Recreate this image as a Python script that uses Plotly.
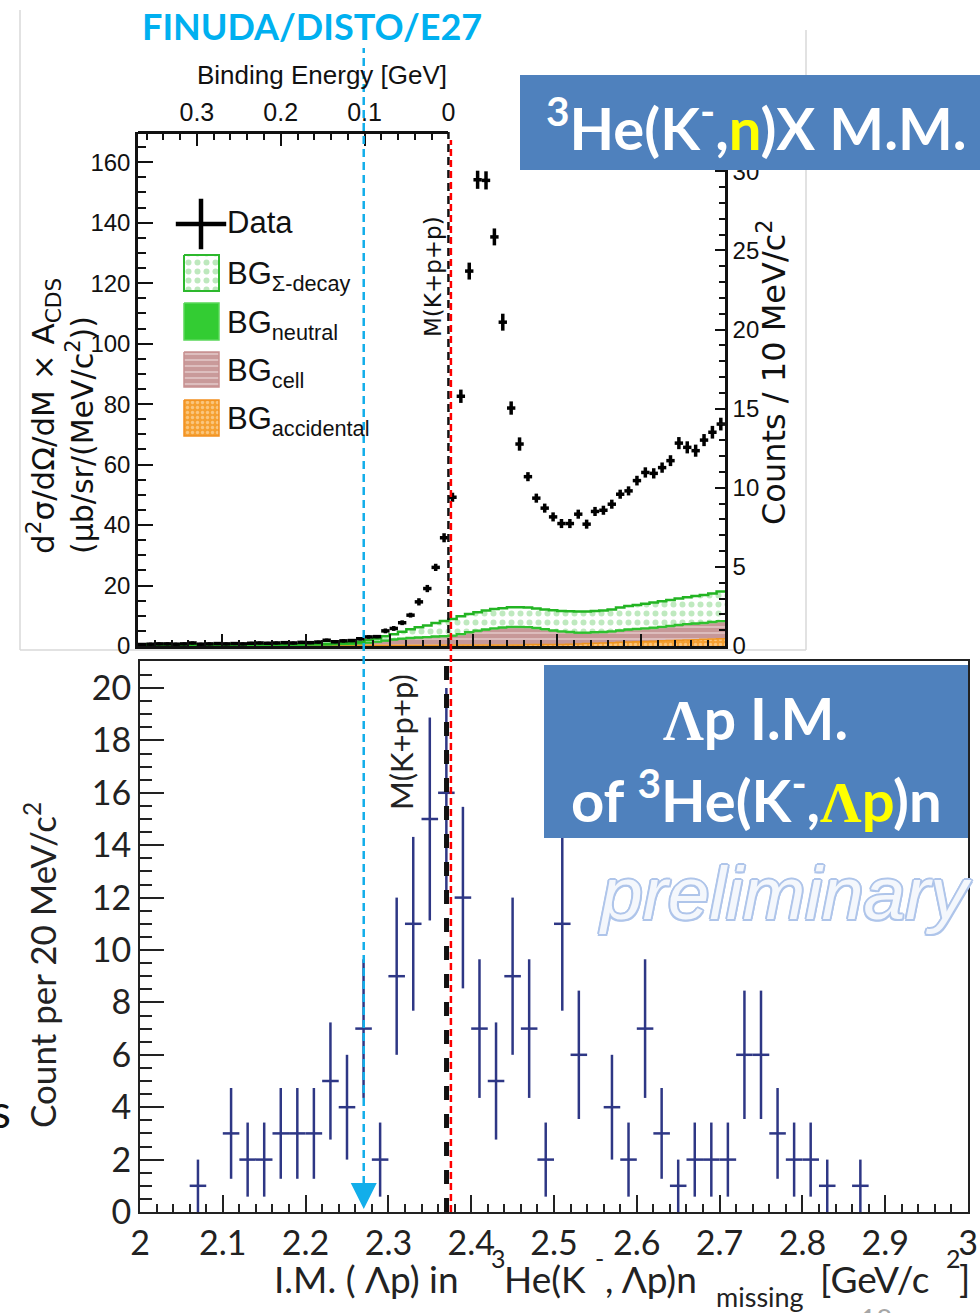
import numpy as np
import plotly.graph_objects as go

W, H = 980, 1313


def px(x):
    return x / W


def py(y):
    return 1 - y / H


# ---------------- constants ----------------
M_KPP = 2.3702          # M(K+p+p) threshold [GeV/c^2]
BE_MARK = 0.10          # FINUDA/DISTO/E27 binding energy [GeV]
M_RED = 2.3755          # red marker line [GeV/c^2]

# ---------------- 3He(K-,n)X missing mass (10 MeV/c^2 bins) ----------------
mm_bin_centers = np.round(2.005 + 0.01 * np.arange(70), 3)
mm_xsec = [0.5, 0.6, 0.7, 0.7, 0.6, 0.7, 1.0, 0.6, 0.7, 0.8,
           0.7, 0.8, 0.7, 0.9, 1.0, 0.9, 1.0, 1.1, 1.0, 1.2,
           1.1, 1.3, 1.9, 1.4, 1.7, 1.8, 2.4, 3.0, 3.1, 5.0,
           5.8, 7.7, 10.2, 14.6, 19.0, 26.0, 35.8, 49.2, 82.6, 124.0,
           154.2, 154.0, 135.3, 107.1, 78.7, 66.8, 56.0, 48.9, 45.6, 42.7,
           40.5, 40.5, 43.6, 40.3, 44.5, 44.9, 46.9, 50.2, 51.3, 54.7,
           57.4, 57.1, 59.0, 61.3, 67.1, 65.7, 64.6, 68.1, 70.7, 73.4]
mm_err = [0.3, 0.3, 0.3, 0.3, 0.3, 0.3, 0.3, 0.3, 0.3, 0.3,
          0.3, 0.3, 0.3, 0.3, 0.3, 0.3, 0.3, 0.3, 0.3, 0.3,
          0.3, 0.3, 0.5, 0.3, 0.5, 0.5, 0.5, 0.5, 0.5, 0.8,
          0.8, 0.8, 0.8, 1.2, 1.2, 1.2, 1.5, 1.5, 2.2, 2.8,
          3.0, 3.0, 2.8, 2.8, 2.2, 2.2, 1.5, 1.5, 1.5, 1.5,
          1.5, 1.5, 1.5, 1.5, 1.5, 1.5, 1.5, 1.5, 1.5, 1.6,
          1.7, 1.7, 1.7, 1.8, 2.0, 2.0, 2.0, 2.0, 2.1, 2.1]
bg_accidental = [0.1] * 26 + [0.25] * 10 + [0.35] * 10 + [0.5] * 5 + \
    [0.6, 0.7, 0.8, 0.9, 1.0, 1.1, 1.2, 1.3, 1.4, 1.5,
     1.6, 1.7, 1.8, 1.9, 2.0, 2.1, 2.2, 2.3, 2.4]
bg_cell = [0.2] * 20 + [0.25, 0.25, 0.3, 0.35, 0.4, 0.45] + \
    [0.4, 0.6, 0.8, 1.1, 1.4, 1.7, 1.9, 2.1, 2.2, 2.4,
     2.4, 2.6, 3.1, 3.7, 4.2, 4.6, 5.0, 5.3, 5.5, 5.5,
     5.25, 4.95, 4.55, 4.15, 3.85, 3.55, 3.25, 3.15, 3.15, 3.15,
     3.25, 3.45, 3.65, 3.75, 3.85, 3.95, 4.15, 4.35, 4.55, 4.75,
     4.85, 4.95, 5.15, 5.35]
bg_neutral = [0.05] * 26 + [0.15, 0.25, 0.35, 0.45] + [0.55] * 40
bg_sigma_decay = [0.2] * 20 + \
    [0.25, 0.3, 0.3, 0.35, 0.4, 0.5, 0.6, 0.9, 1.1, 1.4,
     1.7, 2.2, 2.8, 3.3, 3.8, 4.4, 5.0, 5.4, 5.8, 6.0,
     6.1, 6.2, 6.3, 6.3, 6.4, 6.4, 6.4, 6.4, 6.5, 6.6,
     6.7, 6.8, 6.9, 6.9, 7.0, 7.0, 7.2, 7.5, 7.7, 7.9,
     8.1, 8.3, 8.4, 8.5, 8.7, 8.8, 9.0, 9.2, 9.4, 9.7]

# ---------------- Lambda-p invariant mass (20 MeV/c^2 bins) ----------------
im_bin_centers = np.round(2.01 + 0.02 * np.arange(50), 3)
im_counts = [0, 0, 0, 1, 0, 3, 2, 2, 3, 3,
             3, 5, 4, 7, 2, 9, 11, 15, 16, 12,
             7, 5, 9, 7, 2, 11, 6, 0, 4, 2,
             7, 3, 1, 2, 2, 2, 6, 6, 3, 2,
             2, 1, 0, 1, 0, 0, 0, 0, 0, 0]

# ---------------- geometry (pixels) ----------------
TX0, TX1, TY0, TY1 = 138, 725, 646, 132      # upper frame
BX0, BX1, BY0, BY1 = 140, 968, 1212, 661     # lower frame
M_LO, M_HI = 2.0, 2.7
Y_TOP_MAX = 170.0
COUNT_PER_UNIT = 5.233                          # xsec units per count
BE_X1 = TX0 + (M_KPP - M_LO) / (M_HI - M_LO) * (TX1 - TX0)

NARROW = "Liberation Sans Narrow, Noto Sans Condensed, Liberation Sans, sans-serif"
SANS = "DejaVu Sans, sans-serif"
LATO = "Lato, sans-serif"
INK = "#111111"
NAVY = "#2E3785"

fig = go.Figure()

# ---- stacked backgrounds as step histograms ----
edges = list(mm_bin_centers - 0.005) + [mm_bin_centers[-1] + 0.005]
c1 = np.array(bg_accidental)
c2 = c1 + np.array(bg_cell)
c3 = c2 + np.array(bg_neutral)
c4 = c3 + np.array(bg_sigma_decay)


def stepy(v):
    return list(v) + [v[-1]]


fig.add_trace(go.Scatter(
    x=edges, y=stepy(c1), mode="lines", line=dict(shape="hv", color="#EE9420", width=1.5),
    fill="tozeroy", fillcolor="#F5A032",
    fillpattern=dict(shape=".", bgcolor="#F5A032", fgcolor="#FFE9C8", size=5, solidity=0.35),
    xaxis="x", yaxis="y", showlegend=False, hoverinfo="skip"))
fig.add_trace(go.Scatter(
    x=edges, y=stepy(c2), mode="lines", line=dict(shape="hv", color="#C49494", width=0.5),
    fill="tonexty", fillcolor="#C99A9A",
    fillpattern=dict(shape="-", bgcolor="#C79898", fgcolor="#F6EAEA", size=6, solidity=0.3),
    xaxis="x", yaxis="y", showlegend=False, hoverinfo="skip"))
fig.add_trace(go.Scatter(
    x=edges, y=stepy(c3), mode="lines", line=dict(shape="hv", color="#2DC02D", width=2),
    fill="tonexty", fillcolor="#33CC33",
    xaxis="x", yaxis="y", showlegend=False, hoverinfo="skip"))
fig.add_trace(go.Scatter(
    x=edges, y=stepy(c4), mode="lines", line=dict(shape="hv", color="#22B422", width=2.5),
    fill="tonexty", fillcolor="white",
    fillpattern=dict(shape=".", bgcolor="white", fgcolor="#7FD47F", size=9, solidity=0.35),
    xaxis="x", yaxis="y", showlegend=False, hoverinfo="skip"))

# ---- data points ----
fig.add_trace(go.Scatter(
    x=mm_bin_centers, y=mm_xsec, mode="markers",
    marker=dict(size=3, color="black", symbol="square"),
    error_y=dict(type="data", array=mm_err, color="black", thickness=3.5, width=0),
    error_x=dict(type="constant", value=0.005, color="black", thickness=3.5, width=0),
    xaxis="x", yaxis="y", showlegend=False, hoverinfo="skip"))

# right-axis and binding-energy axis carriers
fig.add_trace(go.Scatter(x=[2.1], y=[-10], mode="markers", marker=dict(size=1, opacity=0),
                         xaxis="x", yaxis="y2", showlegend=False, hoverinfo="skip"))
fig.add_trace(go.Scatter(x=[0.2], y=[-10], mode="markers", marker=dict(size=1, opacity=0),
                         xaxis="x3", yaxis="y", showlegend=False, hoverinfo="skip"))

# ---- lower panel histogram with Poisson errors ----
im_x = [c for c, n in zip(im_bin_centers, im_counts) if n > 0]
im_y = [n for n in im_counts if n > 0]
fig.add_trace(go.Scatter(
    x=im_x, y=im_y, mode="markers", marker=dict(size=1, color=NAVY, opacity=0),
    error_y=dict(type="data", array=np.sqrt(im_y), color=NAVY, thickness=2.5, width=0),
    error_x=dict(type="constant", value=0.01, color=NAVY, thickness=2.5, width=0),
    xaxis="x2", yaxis="y3", showlegend=False, hoverinfo="skip"))

# ---- hand-made legend (own axes in pixel units) ----
LX0, LX1, LY0, LY1 = 175, 345, 445, 195
fig.add_trace(go.Scatter(
    x=[201], y=[224], mode="markers",
    marker=dict(symbol="cross-thin", size=36, line=dict(width=4.5, color="black")),
    xaxis="x4", yaxis="y4", showlegend=False, hoverinfo="skip"))
swatches = [
    ((255, 291), dict(fillcolor="white", line=dict(color="#2DB82D", width=2),
                      fillpattern=dict(shape=".", bgcolor="white", fgcolor="#7CD27C", size=9, solidity=0.35))),
    ((303, 340), dict(fillcolor="#33CC33", line=dict(color="#5AD85A", width=1.5))),
    ((352, 387), dict(fillcolor="#C99A9A", line=dict(color="#C89090", width=1.5),
                      fillpattern=dict(shape="-", bgcolor="#C99A9A", fgcolor="#F6EAEA", size=6, solidity=0.3))),
    ((400, 436), dict(fillcolor="#F5A032", line=dict(color="#F29020", width=1.5),
                      fillpattern=dict(shape=".", bgcolor="#F5A032", fgcolor="#FFE9C8", size=5, solidity=0.35))),
]
for (ya, yb), style in swatches:
    fig.add_trace(go.Scatter(
        x=[184, 219, 219, 184, 184], y=[ya, ya, yb, yb, ya], mode="lines", fill="toself",
        xaxis="x4", yaxis="y4", showlegend=False, hoverinfo="skip", **style))

legend_labels = [
    ("Data", 222),
    ("BG<sub>Σ-decay</sub>", 276),
    ("BG<sub>neutral</sub>", 325),
    ("BG<sub>cell</sub>", 373),
    ("BG<sub>accidental</sub>", 421),
]

# ---------------- axes ----------------
top_font = dict(family=NARROW, size=24, color=INK)
bot_font = dict(family=LATO, size=34, color="#222222")
common = dict(showgrid=False, zeroline=False, automargin=False)
fig.update_layout(
    width=W, height=H, margin=dict(l=0, r=0, t=0, b=0, pad=0, autoexpand=False),
    paper_bgcolor="white", plot_bgcolor="rgba(0,0,0,0)",
    showlegend=False,
    xaxis=dict(domain=[px(TX0), px(TX1)], range=[M_LO, M_HI], anchor="y",
               showline=True, linecolor=INK, linewidth=2.5, ticks="inside",
               tick0=2.0, dtick=0.1, ticklen=12, tickwidth=2, tickcolor=INK,
               minor=dict(dtick=0.02, ticks="inside", ticklen=6, tickwidth=1.5, tickcolor=INK),
               showticklabels=False, **common),
    yaxis=dict(domain=[py(TY0), py(TY1)], range=[0, Y_TOP_MAX], anchor="x",
               showline=True, linecolor=INK, linewidth=2.5, ticks="inside",
               dtick=20, ticklen=15, tickwidth=2, tickcolor=INK,
               minor=dict(dtick=5, ticks="inside", ticklen=8, tickwidth=1.5, tickcolor=INK),
               tickfont=top_font, ticklabelstandoff=0, **common),
    yaxis2=dict(overlaying="y", side="right", anchor="x", range=[0, Y_TOP_MAX / COUNT_PER_UNIT],
                showline=True, linecolor=INK, linewidth=2.5, ticks="inside",
                dtick=5, ticklen=10, tickwidth=2, tickcolor=INK,
                minor=dict(dtick=1, ticks="inside", ticklen=6, tickwidth=1.5, tickcolor=INK),
                tickfont=top_font, ticklabelstandoff=0, **common),
    xaxis3=dict(domain=[px(TX0), px(BE_X1)], range=[M_KPP - M_LO, 0], anchor="free",
                position=py(TY1), side="top", showline=True, linecolor=INK, linewidth=2.5,
                ticks="inside", tick0=0, dtick=0.1, ticklen=12, tickwidth=2, tickcolor=INK,
                minor=dict(dtick=0.02, ticks="inside", ticklen=6, tickwidth=1.5, tickcolor=INK),
                tickfont=dict(family=NARROW, size=25, color=INK), **common),
    xaxis2=dict(domain=[px(BX0), px(BX1)], range=[2.0, 3.0], anchor="y3",
                showline=True, mirror=True, linecolor="#222222", linewidth=2, ticks="inside",
                tick0=2.0, dtick=0.1, ticklen=17, tickwidth=2, tickcolor="#222222",
                minor=dict(dtick=0.02, ticks="inside", ticklen=8, tickwidth=1.5, tickcolor="#222222"),
                tickfont=bot_font, **common),
    yaxis3=dict(domain=[py(BY0), py(BY1)], range=[0, (BY0 - BY1) / 26.2], anchor="x2",
                showline=True, mirror=True, linecolor="#222222", linewidth=2, ticks="inside",
                dtick=2, ticklen=24, tickwidth=2, tickcolor="#222222",
                minor=dict(dtick=0.5, ticks="inside", ticklen=12, tickwidth=1.5, tickcolor="#222222"),
                tickfont=bot_font, **common),
    xaxis4=dict(domain=[px(LX0), px(LX1)], range=[LX0, LX1], visible=False, anchor="y4", automargin=False),
    yaxis4=dict(domain=[py(LY0), py(LY1)], range=[LY0, LY1], visible=False, anchor="x4", automargin=False),
)

# ---------------- shapes ----------------
shapes = []
gray = dict(color="#D9D9D9", width=1.5)
shapes += [
    dict(type="line", xref="paper", yref="paper", x0=px(20), x1=px(20), y0=py(10), y1=py(650), line=gray, layer="below"),
    dict(type="line", xref="paper", yref="paper", x0=px(20), x1=px(806), y0=py(650), y1=py(650), line=gray, layer="below"),
    dict(type="line", xref="paper", yref="paper", x0=px(806), x1=px(806), y0=py(30), y1=py(650), line=gray, layer="below"),
]
# threshold M(K+p+p) in both panels
shapes.append(dict(type="line", xref="x", yref="y", x0=M_KPP, x1=M_KPP, y0=0, y1=Y_TOP_MAX,
                   line=dict(color=INK, width=2.5, dash="8px,5px")))
shapes.append(dict(type="line", xref="x2", yref="y3", x0=M_KPP, x1=M_KPP, y0=0, y1=(BY0 - BY1) / 26.2,
                   line=dict(color=INK, width=5, dash="14px,14px")))
# red marker line
shapes.append(dict(type="line", xref="x2", yref="paper", x0=M_RED, x1=M_RED, y0=py(BY0), y1=py(140),
                   line=dict(color="#FF0000", width=2.5, dash="7px,4px")))
# FINUDA/DISTO/E27 binding energy marker
m_mark = M_KPP - BE_MARK
shapes.append(dict(type="line", xref="x2", yref="paper", x0=m_mark, x1=m_mark, y0=py(1184), y1=py(48),
                   line=dict(color="#12AEEA", width=2.5, dash="8px,5px")))
ax_px = BX0 + (m_mark - 2.0) * (BX1 - BX0)
shapes.append(dict(type="path", xref="paper", yref="paper",
                   path=f"M {px(ax_px - 13)},{py(1183)} L {px(ax_px + 13)},{py(1183)} L {px(ax_px)},{py(1209)} Z",
                   fillcolor="#12AEEA", line=dict(width=0)))
# title boxes
shapes.append(dict(type="rect", xref="paper", yref="paper", x0=px(520), x1=px(990), y0=py(170), y1=py(75),
                   fillcolor="#4F81BD", line=dict(width=0), layer="above"))
shapes.append(dict(type="rect", xref="paper", yref="paper", x0=px(544), x1=px(968), y0=py(838), y1=py(665),
                   fillcolor="#4F81BD", line=dict(width=0), layer="above"))
fig.update_layout(shapes=shapes)

# ---------------- annotations ----------------
ann = []


def text(t, x, y, font, xanchor="center", yanchor="middle", angle=0, align="center"):
    ann.append(dict(text=t, x=px(x), y=py(y), xref="paper", yref="paper", showarrow=False,
                    font=font, xanchor=xanchor, yanchor=yanchor, textangle=angle, align=align))


text("FINUDA/DISTO/E27", 312, 26, dict(family=LATO, size=36, color="#00B0F0", weight="bold"))
text("Binding Energy [GeV]", 449, 75, dict(family=NARROW, size=26, color=INK), xanchor="right")
text("d<sup>2</sup>σ/dΩ/dM × A<sub>CDS</sub>", 43, 556, dict(family=SANS, size=31, color=INK),
     yanchor="bottom", angle=-90)
text("(μb/sr/(MeV/c<sup>2</sup>))", 80, 556, dict(family=SANS, size=30, color=INK),
     yanchor="bottom", angle=-90)
text("Counts / 10 MeV/c<sup>2</sup>", 772, 372, dict(family=SANS, size=32, color=INK), angle=-90)
text("M(K+p+p)", 433, 277, dict(family=SANS, size=23, color=INK), angle=-90)
for label, yy in legend_labels:
    text(label, 225, yy, dict(family=NARROW, size=31, color=INK), xanchor="left")

text("<sup>3</sup>He(K<sup>-</sup>,<span style='color:#FFFF00'>n</span>)X M.M.", 756, 124,
     dict(family=LATO, size=58, color="white", weight="bold"))
LAM = "<span style='font-family:Liberation Serif'>Λ</span>"
text(f"{LAM}p I.M.", 755, 718, dict(family=LATO, size=57, color="white", weight="bold"))
text(f"of <sup>3</sup>He(K<sup>-</sup>,<span style='color:#FFFF00'>{LAM}p</span>)n", 756, 796,
     dict(family=LATO, size=58, color="white", weight="bold"))

outline = "#AFC5EA"
shadow = ", ".join(f"{dx}px {dy}px 0 {outline}" for dx, dy in
                   [(2, 0), (-2, 0), (0, 2), (0, -2), (1.5, 1.5), (-1.5, -1.5), (1.5, -1.5), (-1.5, 1.5)])
text("preliminary", 785, 893, dict(family="Liberation Sans, Arial, sans-serif", size=75,
                                     color="#F4F7FC", style="italic", shadow=shadow))

text("M(K+p+p)", 401, 742, dict(family=LATO, size=31, color="#222222"), angle=-90)

# lower x-axis title, set piece by piece with TLatex-like spacing
xt_main = dict(family=LATO, size=37, color="#222222")
xt_small = dict(family=LATO, size=25, color="#222222")
text("I.M. ( Λp) in", 272, 1278, xt_main, xanchor="left")
text("3", 489, 1258, xt_small, xanchor="left")
text("He(K", 502, 1278, xt_main, xanchor="left")
text("-", 593, 1258, xt_small, xanchor="left")
text(", Λp)n", 603, 1278, xt_main, xanchor="left")
text("missing", 714, 1296, dict(family=LATO, size=27, color="#222222"), xanchor="left")
text("[GeV/c", 818, 1278, xt_main, xanchor="left")
text("2", 944, 1258, xt_small, xanchor="left")
text("]", 957, 1278, xt_main, xanchor="left")

text("Count per 20 MeV/c<sup>2</sup>", 40, 965, dict(family=LATO, size=35, color="#222222"), angle=-90)

text("s", 13, 1110, dict(family=LATO, size=46, color=INK), xanchor="right")
text("18", 876, 1300, dict(family=LATO, size=28, color="#A6A6A6"), yanchor="top")

fig.update_layout(annotations=ann)

fig.write_html("out.html")
